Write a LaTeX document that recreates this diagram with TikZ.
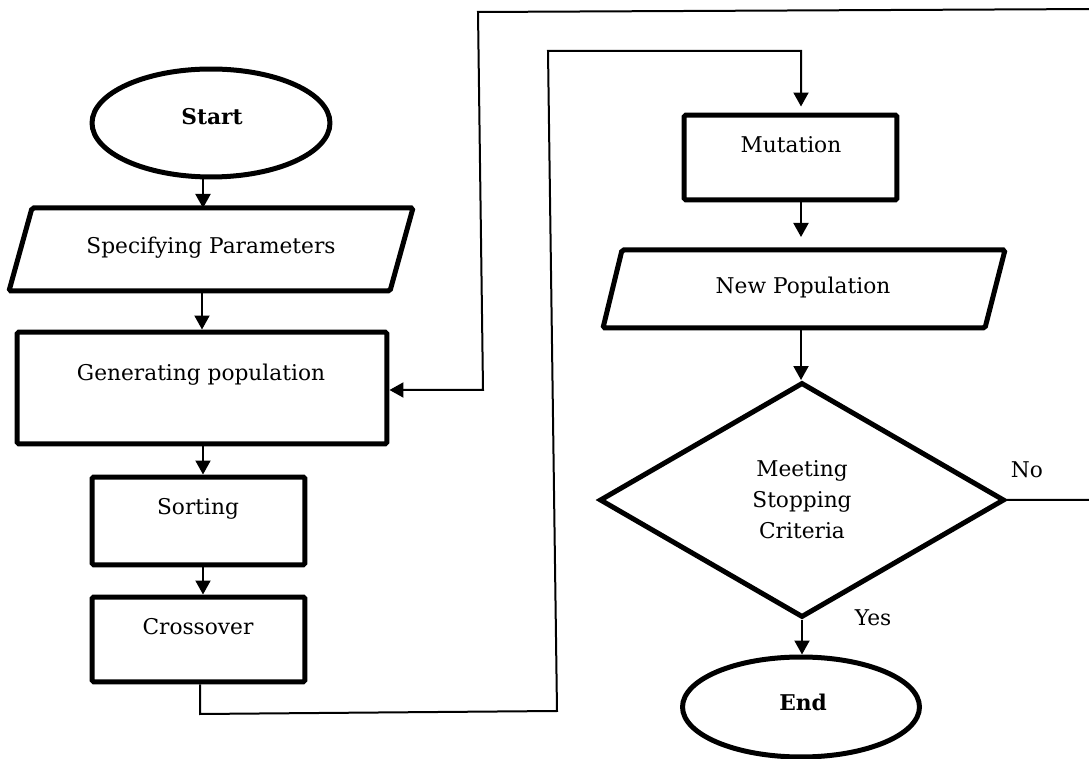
\documentclass[tikz,border=0pt]{standalone}
\usepackage{fontspec}
\setmainfont{DejaVu Serif}
\usetikzlibrary{arrows.meta,shapes.geometric,calc}
\begin{document}
\begin{tikzpicture}[x=0.02cm,y=-0.02cm,
  thickline/.style={draw, line width=0.1cm, rounded corners=1pt},
  procbox/.style={thickline, rectangle, inner sep=0pt},
  term/.style={draw, line width=0.1cm, ellipse, inner sep=0pt},
  decis/.style={draw, line width=0.1cm, diamond, inner sep=0pt, aspect=1.72, align=center,
                font=\fontsize{12.35}{17.6}\selectfont},
  lbl/.style={inner sep=0pt, font=\fontsize{12.35}{17.6}\selectfont},
  blbl/.style={inner sep=0pt, font=\fontsize{12.35}{17.6}\selectfont\bfseries},
  conn/.style={line width=0.04cm},
  arr/.style={conn, -{Triangle[length=0.28cm,width=0.3cm]}},
]
\useasboundingbox (0,0) rectangle (1089,759);
\clip (0,0) rectangle (1089,759);

% left column
\node[term, minimum width=4.76cm, minimum height=2.16cm] (start) at (211,123) {};
\node[blbl] (startT) at (212,117) {Start};

\draw[thickline] (32,208) -- (413,208) -- (390,291) -- (9,291) -- cycle;
\node[lbl] (param) at (211,248) {Specifying Parameters};
\coordinate (pIn) at (203,208);
\coordinate (pOut) at (202,291);

\node[procbox, minimum width=7.4cm, minimum height=2.24cm] (gen) at (202,388) {};
\node[lbl] (genT) at (201,375) {Generating population};

\node[procbox, minimum width=4.26cm, minimum height=1.76cm] (sort) at (198.5,521) {};
\node[lbl] (sortT) at (198,509) {Sorting};

\node[procbox, minimum width=4.26cm, minimum height=1.7cm] (cross) at (198.5,639.5) {};
\node[lbl] (crossT) at (198,627) {Crossover};

% right column
\node[procbox, minimum width=4.26cm, minimum height=1.7cm] (mut) at (790.5,157.5) {};
\node[lbl] (mutT) at (791,145) {Mutation};

\draw[thickline] (622,250) -- (1005,250) -- (985,328) -- (603,328) -- cycle;
\node[lbl] (newpop) at (803,288) {New Population};
\coordinate (nIn) at (801,250);
\coordinate (nOut) at (801,328);

\node[decis, minimum width=8.1cm, minimum height=4.7cm] (dia) at (802,500) {Meeting\\Stopping\\Criteria};

\node[term, minimum width=4.74cm, minimum height=2cm] (end) at (801,707) {};
\node[blbl] (endT) at (803,702) {End};

\node[lbl] (no) at (1027,470) {No};
\node[lbl] (yes) at (873,618) {Yes};

% connectors
\coordinate (xL) at (203,0);
\draw[arr] (start.south -| pIn) -- (pIn);
\draw[arr] (pOut) -- (gen.north -| pOut);
\draw[arr] (gen.south -| xL) -- (sort.north -| xL);
\draw[arr] (sort.south -| xL) -- (cross.north -| xL);

\coordinate (c1) at (200,714);
\coordinate (c2) at (557,711);
\coordinate (c3) at (548,51);
\coordinate (c4) at (801,51);
\draw[arr, shorten >=0.12cm] (cross.south -| c1) -- (c1) -- (c2) -- (c3) -- (c4) -- (mut.north -| c4);

\draw[arr, shorten >=0.26cm] (mut.south -| c4) -- (nIn);
\draw[arr] (nOut) -- (dia.north -| nOut);
\draw[arr] (dia.south) -- (end.north -| dia.south);

\coordinate (o2) at (1100,9);
\coordinate (o3) at (478,12);
\coordinate (o4) at (483,390);
\draw[arr] (dia.east) -- (dia.east -| o2) -- (o2) -- (o3) -- (o4) -- (gen.east |- o4);
\end{tikzpicture}
\end{document}
